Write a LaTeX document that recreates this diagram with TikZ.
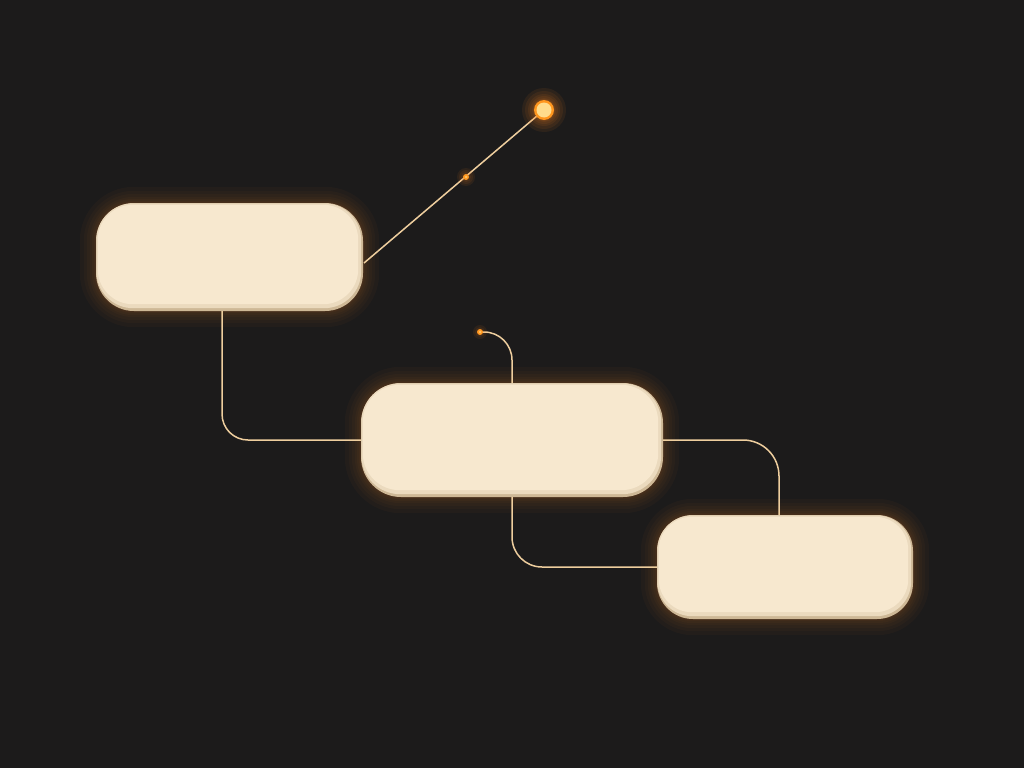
\documentclass[tikz,border=0pt]{standalone}
\usetikzlibrary{calc}
\definecolor{bg}{RGB}{28,27,27}
\definecolor{cream}{RGB}{247,232,207}
\definecolor{creamdark}{RGB}{206,184,150}
\definecolor{wire}{RGB}{238,206,158}
\definecolor{glow}{RGB}{255,135,35}
\definecolor{dotcore}{RGB}{255,220,140}
\definecolor{dotring}{RGB}{255,150,30}
\pgfdeclarelayer{back}
\pgfsetlayers{back,main}
\tikzset{
  pill/.style={rectangle, fill=creamdark, inner sep=0pt, rounded corners=#1},
  wireline/.style={draw=wire, line width=1.5pt},
  dotglow/.style={fill=glow, opacity=0.08},
}
\begin{document}
\begin{tikzpicture}[x=1pt,y=-1pt]
\useasboundingbox (0,0) rectangle (1024,768);

% boxes
\node[pill=38pt, minimum width=267pt, minimum height=108pt] (A) at (229.5,257) {};
\node[pill=40pt, minimum width=302pt, minimum height=114pt] (B) at (512,440) {};
\node[pill=36pt, minimum width=256pt, minimum height=104pt] (C) at (785,567) {};

% background and glow behind boxes
\begin{pgfonlayer}{back}
\fill[bg] (0,0) rectangle (1024,768);
\foreach \n/\r in {A/38,B/40,C/36}{
  \foreach \i in {16,12,9,6,4,2,1}{
    \fill[glow, opacity=0.032, rounded corners={(\r+\i)*1pt}]
      ($(\n.north west)+(-\i,-\i)$) rectangle ($(\n.south east)+(\i,\i)$);
  }
}
\end{pgfonlayer}

% inner lighter face
\foreach \n/\r in {A/38,B/40,C/36}{
  \fill[cream!70!creamdark, rounded corners={(\r-1)*1pt}]
    ($(\n.north west)+(0.5,0.5)$) rectangle ($(\n.south east)+(-2,-3)$);
  \fill[cream, rounded corners={(\r-3)*1pt}]
    ($(\n.north west)+(2,2)$) rectangle ($(\n.south east)+(-5,-7)$);
}

% dots
\coordinate (D1) at (544,110);
\coordinate (D2) at (466,177);
\coordinate (D3) at (480,332);
\coordinate (AE) at (364,263);

% connectors
\draw[wireline] (AE) -- (D1);
\draw[wireline, rounded corners=26pt] ([xshift=-7.5pt]A.south) |- (B.west);
\draw[wireline, rounded corners=28pt] (D3) -| (B.north);
\draw[wireline, rounded corners=36pt] (B.east) -| ([xshift=-6pt]C.north);
\draw[wireline, rounded corners=30pt] (B.south) |- (C.west);

% glowing dots
\foreach \s in {22,19,16,14,12,11}{ \fill[dotglow] (D1) circle (\s pt); }
\fill[dotring] (D1) circle (10pt);
\fill[dotcore] (D1) circle (7.5pt);
\foreach \s in {9,7,5}{ \fill[dotglow] (D2) circle (\s pt); }
\fill[dotring] (D2) circle (3pt);
\fill[dotcore!60!dotring] (D2) circle (1.5pt);
\foreach \s in {7,5}{ \fill[dotglow] (D3) circle (\s pt); }
\fill[dotring] (D3) circle (3pt);
\fill[dotcore!60!dotring] (D3) circle (1.5pt);
\end{tikzpicture}
\end{document}
